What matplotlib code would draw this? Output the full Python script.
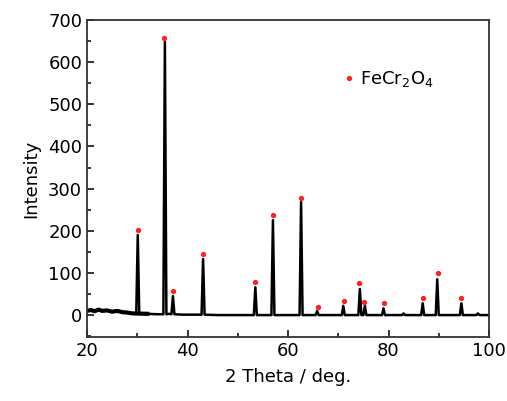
import numpy as np
from matplotlib import pyplot as plt
from matplotlib.ticker import MultipleLocator

# XRD pattern
peak_pos = [30.1, 35.5, 37.1, 43.1, 53.5, 57.0, 62.6, 65.8, 71.0, 74.3, 75.3, 79.0, 83.0, 86.8, 89.7, 94.5, 97.8]
peak_h = [190, 648, 45, 133, 66, 225, 268, 10, 22, 62, 22, 16, 4, 28, 85, 28, 4]
peak_base = [3, 2, 2, 1, 0, 0, 0, 0, 0, 0, 0, 0, 0, 0, 0, 0, 0]

# background (2theta, intensity)
base_x = [20, 20.8, 21.5, 22.3, 23.0, 24.0, 25.0, 26.0, 27.0, 28.0, 29.0, 32.0, 34.0, 36.3, 39.0, 41.0,
          46.0, 50.0, 55.3, 60.0, 64.3, 68.0, 73.0, 77.0, 81.0, 85.0, 88.0, 92.0, 96.0, 99.0, 100]
base_y = [10, 12, 9, 13, 10, 11, 8, 10, 7, 6, 4, 3, 2, 3, 1, 1,
          0, 0, 0, 0, 0, 0, 0, 0, 0, 0, 0, 0, 0, 0, 0]

# FeCr2O4 marker positions
mark_x = [30.2, 35.4, 37.2, 43.1, 53.4, 56.95, 62.6, 65.9, 71.1, 74.1, 75.2, 79.2, 86.9, 89.8, 94.5]
mark_y = [203, 657, 57, 145, 79, 237, 278, 20, 33, 75, 32, 28, 41, 99, 41]

hw = 0.3
pts = list(zip(base_x, base_y))
for p, h, b in zip(peak_pos, peak_h, peak_base):
    pts += [(p - hw, b), (p, h), (p + hw, b)]
pts.sort()
xx = [q[0] for q in pts]
yy = [q[1] for q in pts]

plt.rcParams['font.family'] = 'DejaVu Sans'
fig = plt.figure(figsize=(5.07, 4.01), dpi=100)
ax = fig.add_axes([0.1716, 0.1596, 0.7929, 0.7904])

ax.plot(xx, yy, color='black', linewidth=1.8)
ax.plot(base_x[:12], base_y[:12], color='black', linewidth=3.0)
ax.plot(mark_x, mark_y, 'o', color='#ff2020', markersize=2.8, linestyle='none', label='FeCr$_2$O$_4$')

ax.set_xlim(20, 100)
ax.set_ylim(-52, 700)
ax.xaxis.set_major_locator(MultipleLocator(20))
ax.xaxis.set_minor_locator(MultipleLocator(10))
ax.yaxis.set_major_locator(MultipleLocator(100))
ax.yaxis.set_minor_locator(MultipleLocator(50))
ax.tick_params(which='both', direction='in', top=False, right=False, labelsize=13, width=1.1)
ax.tick_params(which='major', length=5)
ax.tick_params(which='minor', length=3)
for s in ax.spines.values():
    s.set_linewidth(1.3)
    s.set_color('#333333')

ax.set_xlabel('2 Theta / deg.', fontsize=13, labelpad=6)
ax.set_ylabel('Intensity', fontsize=13, labelpad=6)

leg = ax.legend(loc='center left', bbox_to_anchor=(0.615, 0.814), frameon=False, fontsize=13,
                handlelength=0.6, handletextpad=0.3, borderpad=0)

fig.savefig('out.png', dpi=100)
